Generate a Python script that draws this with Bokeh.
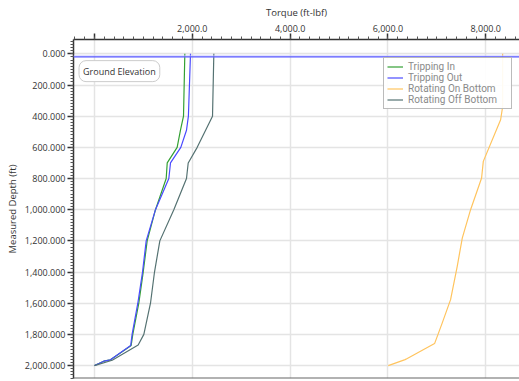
from bokeh.plotting import figure
from bokeh.models import (Range1d, SingleIntervalTicker, NumeralTickFormatter, Legend,
                          LegendItem, Label, Span)
from bokeh.embed import file_html
from bokeh.resources import INLINE

# ---- data (torque ft-lbf vs measured depth ft) ----
trip_in_depth = [0, 400, 490, 600, 700, 800, 1000, 1200, 1400, 1600, 1800, 1871, 1963, 1972, 2000]
trip_in_torque = [1847, 1820, 1758, 1690, 1487, 1466, 1247, 1077, 996, 906, 783, 750, 327, 190, 0]

trip_out_depth = [0, 400, 490, 600, 700, 800, 1000, 1200, 1400, 1600, 1800, 1871, 1963, 1972, 2000]
trip_out_torque = [1963, 1920, 1881, 1765, 1554, 1520, 1247, 1057, 982, 886, 769, 740, 327, 190, 0]

rot_on_depth = [0, 340, 423, 690, 797, 1000, 1182, 1363, 1577, 1726, 1859, 1955, 1962, 2000]
rot_on_torque = [8344, 8344, 8303, 7949, 7914, 7689, 7519, 7416, 7280, 7110, 6953, 6395, 6350, 6006]

rot_off_depth = [0, 400, 600, 700, 800, 1000, 1200, 1400, 1600, 1800, 1868, 1966, 2000]
rot_off_torque = [2440, 2413, 2100, 1916, 1881, 1622, 1336, 1227, 1145, 1009, 893, 362, 0]

ground_elevation = 20
series_names = ["Tripping In", "Tripping Out", "Rotating On Bottom", "Rotating Off Bottom"]
colors = ["#33a033", "#4a4aff", "#ffc45e", "#557272"]

FONT = "Open Sans"

p = figure(width=519, height=381, output_backend="svg", toolbar_location=None,
           x_axis_location="above",
           x_range=Range1d(-429, 8689), y_range=Range1d(2083, -92),
           min_border_left=73, min_border_top=39, min_border_right=0, min_border_bottom=3)
p.outline_line_color = None
p.background_fill_color = "white"

# grids
p.xgrid.ticker = SingleIntervalTicker(interval=2000)
p.ygrid.ticker = SingleIntervalTicker(interval=200)
for g in (p.xgrid, p.ygrid):
    g.grid_line_color = "#e4e4e4"
    g.grid_line_width = 1.5

# axes
xa = p.xaxis[0]
xa.ticker = SingleIntervalTicker(interval=2000, num_minor_ticks=10)
xa.formatter = NumeralTickFormatter(format="0,0.0")
xa.major_label_overrides = {0: ""}
xa.axis_label = "Torque (ft-lbf)"
ya = p.yaxis[0]
ya.ticker = SingleIntervalTicker(interval=200, num_minor_ticks=10)
ya.formatter = NumeralTickFormatter(format="0,0.000")
ya.axis_label = "Measured Depth (ft)"
for ax in (xa, ya):
    ax.axis_line_color = "#333333"
    ax.axis_line_width = 1.5
    ax.major_tick_line_color = "#333333"
    ax.major_tick_line_width = 1.5
    ax.minor_tick_line_color = "#555555"
    ax.minor_tick_line_width = 1
    ax.major_tick_out = 6
    ax.major_tick_in = 0
    ax.minor_tick_out = 3
    ax.minor_tick_in = 0
    ax.major_label_text_font = FONT
    ax.major_label_text_font_size = "9px"
    ax.major_label_text_color = "#333333"
    ax.axis_label_text_font = FONT
    ax.axis_label_text_font_size = "9.5px"
    ax.axis_label_text_font_style = "normal"
    ax.axis_label_text_color = "#333333"
    ax.major_label_standoff = 2
    ax.axis_label_standoff = 3

# bottom border line
p.add_layout(Span(location=2083, dimension="width", line_color="#666666", line_width=2))

# ground elevation
p.add_layout(Span(location=ground_elevation - 6, dimension="width", line_color="#c8c8ff",
                  line_width=2.5, line_alpha=0.5))
p.add_layout(Span(location=ground_elevation, dimension="width", line_color="#5a5aff",
                  line_width=1.2))

r1 = p.line(trip_in_torque, trip_in_depth, line_color=colors[0], line_width=1.2)
r2 = p.line(trip_out_torque, trip_out_depth, line_color=colors[1], line_width=1.2)
r3 = p.line(rot_on_torque, rot_on_depth, line_color=colors[2], line_width=1.2)
r4 = p.line(rot_off_torque, rot_off_depth, line_color=colors[3], line_width=1.2)

label = Label(x=-316, y=111, text="Ground Elevation", text_font=FONT, text_font_size="9px",
              text_color="#333333", text_baseline="middle", text_align="left",
              background_fill_color="white", border_line_color="#cccccc",
              border_line_width=1, padding=4, border_radius=7)
p.add_layout(label)

legend = Legend(items=[LegendItem(label=n, renderers=[r]) for n, r in zip(series_names, [r1, r2, r3, r4])],
                location=(310, 269), orientation="vertical",
                label_text_font="Roboto", label_text_font_size="10px", label_text_color="#8a8a8a",
                glyph_width=16, glyph_height=11, label_height=11, label_width=100,
                label_standoff=5, spacing=0, padding=3, margin=0,
                border_line_color="#777777", border_line_width=1.5,
                background_fill_color="white", background_fill_alpha=0.92)
p.add_layout(legend)

open("out.html", "w").write(file_html(p, INLINE))
